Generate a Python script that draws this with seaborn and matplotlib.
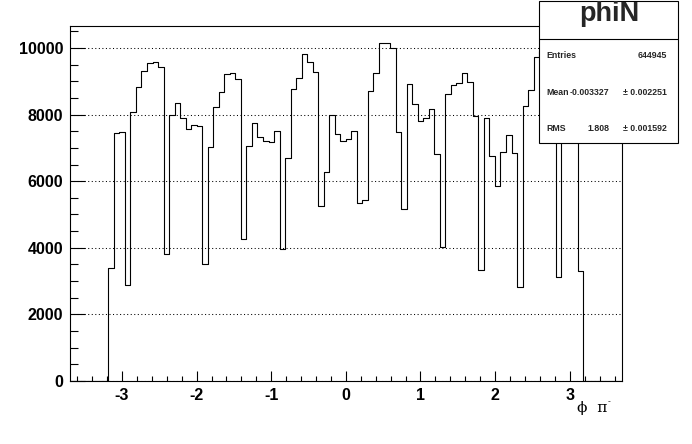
import numpy as np
import pandas as pd
import matplotlib
matplotlib.use("Agg")
import matplotlib.pyplot as plt
from matplotlib.patches import Rectangle
from matplotlib.lines import Line2D
from matplotlib.ticker import MultipleLocator
import seaborn as sns

x_min, x_max, n_bins = -3.7, 3.7, 100
counts = [
    0, 0, 0, 0, 0, 0, 0,
    3390, 7440, 7470, 2880, 8080, 8840, 9300, 9540, 9570, 9420,
    3810, 7980, 8340, 7890, 7570, 7680, 7650, 3510, 7020, 8220,
    8680, 9230, 9250, 9060, 4260, 7050, 7740, 7320, 7200, 7170,
    7500, 3960, 6690, 8760, 9090, 9810, 9570, 9270, 5250, 6270,
    7980, 7410, 7200, 7260, 7500, 5340, 5430, 8700, 9240, 10140,
    10140, 9990, 7470, 5160, 8920, 8320, 7810, 7890, 8160, 6810,
    4020, 8610, 8890, 8940, 9240, 8980, 7960, 3340, 7890, 6750,
    5860, 6870, 7380, 6850, 2820, 8250, 8730, 9720, 9900, 9800,
    9500, 3120, 7600, 7500, 7550, 3310,
    0, 0, 0, 0, 0, 0, 0,
]
x_ticks = [-3, -2, -1, 0, 1, 2, 3]
y_ticks = [0, 2000, 4000, 6000, 8000, 10000]
title = "phiN"
stats_rows = [("Entries", "", "644945"),
              ("Mean", "-0.003327", "\u00b1 0.002251"),
              ("RMS", "1.808", "\u00b1 0.001592")]
x_label = "\u03d5  \u03c0"
x_label_sup = "-"

edges = np.linspace(x_min, x_max, n_bins + 1)
centers = 0.5 * (edges[:-1] + edges[1:])
df = pd.DataFrame({"phi": centers, "n": counts})

# ---- style ----
sns.set_style("ticks")
plt.rcParams["font.family"] = ["Liberation Sans", "DejaVu Sans"]

W, H = 692, 444
fig = plt.figure(figsize=(W / 100, H / 100), dpi=100)
fig.patch.set_facecolor("white")
ax = fig.add_axes([69.7 / W, 1 - 381 / H, (622 - 69.7) / W, (381 - 26) / H])
ax.set_facecolor("white")

sns.histplot(data=df, x="phi", weights="n", bins=n_bins, binrange=(x_min, x_max),
             element="step", fill=False, color="black", linewidth=0.8, ax=ax)

ax.set_xlim(x_min, x_max)
ax.set_ylim(0, 10660)
ax.set_xticks(x_ticks)
ax.set_xticklabels([str(t) for t in x_ticks])
ax.set_yticks(y_ticks)
ax.set_yticklabels([str(t) for t in y_ticks])
ax.xaxis.set_minor_locator(MultipleLocator(0.2))
ax.yaxis.set_minor_locator(MultipleLocator(500))
ax.set_xlabel("")
ax.set_ylabel("")

for sp in ax.spines.values():
    sp.set_visible(True)
    sp.set_color("black")
    sp.set_linewidth(0.8)

ax.tick_params(axis="both", which="both", direction="in", colors="black",
               top=False, right=False, width=0.8)
ax.tick_params(axis="x", which="major", length=7.2, pad=5, labelsize=11.5)
ax.tick_params(axis="x", which="minor", length=3.6)
ax.tick_params(axis="y", which="major", length=10.8, pad=4.8, labelsize=11.5)
ax.tick_params(axis="y", which="minor", length=5.8)
for lab in ax.get_xticklabels() + ax.get_yticklabels():
    lab.set_fontweight("bold")

ax.yaxis.grid(True, which="major", linestyle=(0, (1.0, 2.4)), color="black", linewidth=0.75)
ax.xaxis.grid(False)

# x axis title (ROOT style, right aligned under the axis end)
fig.text(607 / W, 1 - 408 / H, x_label, ha="right", va="center", fontsize=11,
         family=["DejaVu Serif", "DejaVu Sans"], color="black")
fig.text(608 / W, 1 - 402 / H, x_label_sup, ha="left", va="center", fontsize=6,
         family=["DejaVu Serif", "DejaVu Sans"], color="black")

# ---- stats box ----
bx0, bx1, by0, by1 = 539, 678, 1, 143
fig.add_artist(Rectangle((bx0 / W, 1 - by1 / H), (bx1 - bx0) / W, (by1 - by0) / H,
                         transform=fig.transFigure, facecolor="white", edgecolor="black",
                         linewidth=0.8, zorder=5))
fig.add_artist(Line2D([bx0 / W, bx1 / W], [1 - 38.5 / H, 1 - 38.5 / H],
                      transform=fig.transFigure, color="black", linewidth=0.8, zorder=6))
fig.text(609 / W, 1 - 20.7 / H, title, ha="center", va="baseline",
         fontsize=19.5, fontweight="bold", zorder=7)
row_y = [56, 92.5, 128.3]
for (a, b, c), yy in zip(stats_rows, row_y):
    fy = 1 - yy / H
    fig.text(546.5 / W, fy, a, ha="left", va="center", fontsize=6.3, fontweight="bold", zorder=7)
    if b:
        fig.text(609.7 / W, fy, b, ha="right", va="center", fontsize=6.3, fontweight="bold", zorder=7)
    fig.text(666.7 / W, fy, c, ha="right", va="center", fontsize=6.3, fontweight="bold", zorder=7)

fig.savefig("out.png", dpi=100, facecolor="white")
